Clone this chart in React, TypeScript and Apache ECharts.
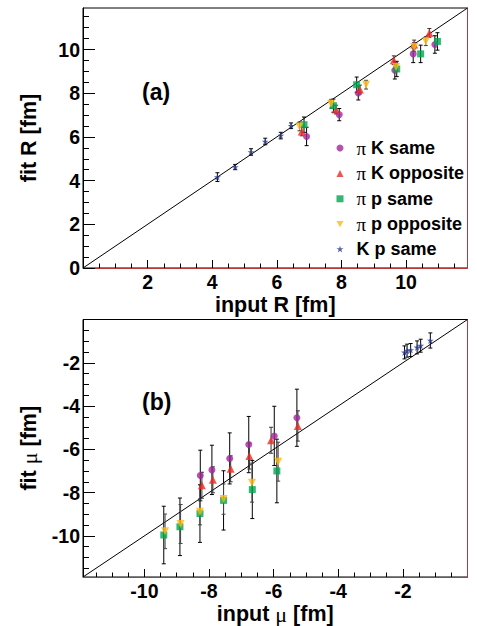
import React, { useEffect, useRef } from 'react';
import * as echarts from 'echarts';

// ---------- data ----------
const legendNames = ['π K same', 'π K opposite', 'π p same', 'π p opposite', 'K p same'];
const seriesColors = ['#a0289b', '#ee2a24', '#00a651', '#fdb913', '#2b3990'];
const errColors = ['#000000', '#333333', '#000000', '#444444', '#000000'];

// Panel (a): radius
const piKSameRin = [6.92, 7.93, 8.52, 9.65, 10.22, 10.89];
const piKSameRfit = [6.02, 7.02, 8.01, 9.05, 9.8, 10.23];
const piKSameRerr = [0.42, 0.28, 0.32, 0.4, 0.4, 0.4];

const piKOppRin = [6.77, 7.83, 8.57, 9.62, 10.25, 10.72];
const piKOppRfit = [6.25, 7.25, 8.17, 9.51, 10.23, 10.76];
const piKOppRerr = [0.2, 0.2, 0.2, 0.2, 0.2, 0.2];

const piPSameRin = [6.84, 7.75, 8.47, 9.71, 10.45, 10.97];
const piPSameRfit = [6.56, 7.43, 8.39, 9.11, 9.8, 10.37];
const piPSameRerr = [0.35, 0.3, 0.35, 0.35, 0.4, 0.4];

const piPOppRin = [6.7, 7.68, 8.76, 9.69, 10.25, 10.61];
const piPOppRfit = [6.48, 7.52, 8.39, 9.2, 10.12, 10.38];
const piPOppRerr = [0.2, 0.2, 0.2, 0.2, 0.2, 0.2];

const kPSameRin = [4.16, 4.71, 5.2, 5.64, 6.12, 6.44];
const kPSameRfit = [4.16, 4.62, 5.31, 5.79, 6.06, 6.51];
const kPSameRerr = [0.2, 0.12, 0.15, 0.15, 0.15, 0.13];

// Panel (b): mu
const piKSameMuIn = [-8.27, -7.91, -7.36, -6.77, -5.98, -5.28];
const piKSameMuFit = [-7.21, -6.95, -6.42, -5.78, -5.38, -4.54];
const piKSameMuErr = [1.17, 1.14, 1.18, 1.3, 1.37, 1.32];

const piKOppMuIn = [-8.22, -7.88, -7.33, -6.75, -6.08, -5.25];
const piKOppMuFit = [-7.66, -7.41, -6.9, -6.31, -5.58, -4.92];
const piKOppMuErr = [0.6, 0.6, 0.6, 0.6, 0.6, 0.7];

const piPSameMuIn = [-9.4, -8.9, -8.28, -7.55, -6.66, -5.9];
const piPSameMuFit = [-9.96, -9.58, -8.97, -8.36, -7.86, -7.0];
const piPSameMuErr = [1.33, 1.33, 1.33, 1.37, 1.34, 1.47];

const piPOppMuIn = [-9.36, -8.88, -8.28, -7.55, -6.67, -5.86];
const piPOppMuFit = [-9.79, -9.45, -8.89, -8.3, -7.54, -6.57];
const piPOppMuErr = [0.8, 0.9, 0.6, 0.7, 0.9, 0.9];

const kPSameMuIn = [-1.95, -1.87, -1.76, -1.56, -1.45, -1.15];
const kPSameMuFit = [-1.52, -1.44, -1.41, -1.29, -1.21, -0.97];
const kPSameMuErr = [0.3, 0.3, 0.3, 0.3, 0.3, 0.35];

// axes
const rRange = [0, 11.9];
const muRange = [-11.9, 0];
const rXLabels = [2, 4, 6, 8, 10];
const rYLabels = [0, 2, 4, 6, 8, 10];
const rMajorTicks = [0, 2, 4, 6, 8, 10];
const rMinorTicks = [0.5, 1, 1.5, 2.5, 3, 3.5, 4.5, 5, 5.5, 6.5, 7, 7.5, 8.5, 9, 9.5, 10.5, 11, 11.5];
const muLabels = [-10, -8, -6, -4, -2];
const muMinorTicks = [-11.5, -11, -10.5, -9.5, -9, -8.5, -7.5, -7, -6.5, -5.5, -5, -4.5, -3.5, -3, -2.5, -1.5, -1, -0.5];

// ---------- styling helpers ----------
const FONT = 'Liberation Sans';
const FRAME_RED = '#b23a3a';
const starPath = 'path://M5,0 L6.2,3.6 L10,3.6 L6.9,5.8 L8.1,9.5 L5,7.2 L1.9,9.5 L3.1,5.8 L0,3.6 L3.8,3.6 Z';
const downTriPath = 'path://M0,0 L10,0 L5,9 Z';
const symbols = ['circle', 'triangle', 'rect', downTriPath, starPath];
const symbolSizes = [7, 8, 7, 8, 7];

const rSets = [
  [piKSameRin, piKSameRfit, piKSameRerr],
  [piKOppRin, piKOppRfit, piKOppRerr],
  [piPSameRin, piPSameRfit, piPSameRerr],
  [piPOppRin, piPOppRfit, piPOppRerr],
  [kPSameRin, kPSameRfit, kPSameRerr],
];
const muSets = [
  [piKSameMuIn, piKSameMuFit, piKSameMuErr],
  [piKOppMuIn, piKOppMuFit, piKOppMuErr],
  [piPSameMuIn, piPSameMuFit, piPSameMuErr],
  [piPOppMuIn, piPOppMuFit, piPOppMuErr],
  [kPSameMuIn, kPSameMuFit, kPSameMuErr],
];

const labelStyle = { fontFamily: FONT, fontSize: 19.5, fontWeight: 'bold', color: '#000' };
const nameStyle = {
  fontFamily: FONT,
  fontSize: 21.5,
  fontWeight: 'bold',
  color: '#000',
  rich: { mu: { fontFamily: 'Liberation Serif', fontSize: 22, fontWeight: 'normal', color: '#000' } },
};

function errSeries(xs: number[], ys: number[], es: number[], color: string, xi: number, yi: number) {
  return {
    type: 'custom',
    xAxisIndex: xi,
    yAxisIndex: yi,
    z: 2,
    silent: true,
    encode: { x: 0, y: 1 },
    data: xs.map((x, i) => [x, ys[i], es[i]]),
    renderItem: (params: any, api: any) => {
      const x = api.value(0);
      const y = api.value(1);
      const e = api.value(2);
      const p1 = api.coord([x, y + e]);
      const p2 = api.coord([x, y - e]);
      const style = { stroke: color, lineWidth: 1 };
      return {
        type: 'group',
        children: [
          { type: 'line', shape: { x1: p1[0], y1: p1[1], x2: p2[0], y2: p2[1] }, style },
          { type: 'line', shape: { x1: p1[0] - 2, y1: p1[1], x2: p1[0] + 2, y2: p1[1] }, style },
          { type: 'line', shape: { x1: p2[0] - 2, y1: p2[1], x2: p2[0] + 2, y2: p2[1] }, style },
        ],
      };
    },
  };
}

function scatterSeries(k: number, xs: number[], ys: number[], xi: number, yi: number) {
  return {
    type: 'scatter',
    name: legendNames[k],
    xAxisIndex: xi,
    yAxisIndex: yi,
    z: 3,
    symbol: symbols[k],
    symbolSize: symbolSizes[k],
    itemStyle: { color: seriesColors[k] },
    data: xs.map((x, i) => [x, ys[i]]),
  };
}

function majorX(gridIndex: number, range: number[], labels: number[], ticks: number[], name: string) {
  return {
    type: 'value',
    gridIndex,
    min: range[0],
    max: range[1],
    position: 'bottom',
    name,
    nameLocation: 'middle',
    nameGap: 26,
    nameTextStyle: nameStyle,
    axisLine: { show: true, onZero: false, lineStyle: { color: FRAME_RED, width: 1 } },
    axisTick: { show: true, inside: true, length: 8, customValues: ticks, lineStyle: { color: '#000' } },
    axisLabel: { show: true, customValues: labels, margin: 4, ...labelStyle },
    splitLine: { show: false },
  };
}
function minorX(gridIndex: number, range: number[], ticks: number[]) {
  return {
    type: 'value',
    gridIndex,
    min: range[0],
    max: range[1],
    position: 'bottom',
    axisLine: { show: false, onZero: false },
    axisTick: { show: true, inside: true, length: 4.5, customValues: ticks, lineStyle: { color: '#000' } },
    axisLabel: { show: false },
    splitLine: { show: false },
  };
}
function majorY(gridIndex: number, range: number[], labels: number[], ticks: number[], name: string) {
  return {
    type: 'value',
    gridIndex,
    min: range[0],
    max: range[1],
    position: 'left',
    name,
    nameLocation: 'middle',
    nameGap: 43,
    nameTextStyle: nameStyle,
    axisLine: { show: true, onZero: false, lineStyle: { color: '#000', width: 1 } },
    axisTick: { show: true, inside: true, length: 12, customValues: ticks, lineStyle: { color: '#000' } },
    axisLabel: { show: true, customValues: labels, margin: 3, ...labelStyle },
    splitLine: { show: false },
  };
}
function minorY(gridIndex: number, range: number[], ticks: number[]) {
  return {
    type: 'value',
    gridIndex,
    min: range[0],
    max: range[1],
    position: 'left',
    axisLine: { show: false, onZero: false },
    axisTick: { show: true, inside: true, length: 6, customValues: ticks, lineStyle: { color: '#000' } },
    axisLabel: { show: false },
    splitLine: { show: false },
  };
}
function rightY(gridIndex: number, range: number[]) {
  return {
    type: 'value',
    gridIndex,
    min: range[0],
    max: range[1],
    position: 'right',
    axisLine: { show: true, onZero: false, lineStyle: { color: FRAME_RED, width: 1 } },
    axisTick: { show: false },
    axisLabel: { show: false },
    splitLine: { show: false },
  };
}

export default function App() {
  const ref = useRef<HTMLDivElement>(null);

  useEffect(() => {
    if (!ref.current) return;
    const chart = echarts.init(ref.current, null, { renderer: 'svg' });

    const series: any[] = [];
    series.push({
      type: 'line',
      xAxisIndex: 0,
      yAxisIndex: 0,
      z: 1,
      silent: true,
      showSymbol: false,
      lineStyle: { color: '#000', width: 1 },
      data: [[rRange[0], rRange[0]], [rRange[1], rRange[1]]],
    });
    series.push({
      type: 'line',
      xAxisIndex: 2,
      yAxisIndex: 3,
      z: 1,
      silent: true,
      showSymbol: false,
      lineStyle: { color: '#000', width: 1 },
      data: [[muRange[0], muRange[0]], [muRange[1], muRange[1]]],
    });
    rSets.forEach((s, k) => series.push(scatterSeries(k, s[0], s[1], 0, 0)));
    muSets.forEach((s, k) => series.push(scatterSeries(k, s[0], s[1], 2, 3)));
    rSets.forEach((s, k) => series.push(errSeries(s[0], s[1], s[2], errColors[k], 0, 0)));
    muSets.forEach((s, k) => series.push(errSeries(s[0], s[1], s[2], errColors[k], 2, 3)));

    chart.setOption({
      animation: false,
      backgroundColor: '#ffffff',
      textStyle: { fontFamily: FONT },
      grid: [
        { left: 83, top: 8, width: 384.5, height: 260, show: true, borderColor: '#000', borderWidth: 1, containLabel: false },
        { left: 83, top: 319.5, width: 384.5, height: 260.5, show: true, borderColor: '#000', borderWidth: 1, containLabel: false },
      ],
      xAxis: [
        majorX(0, rRange, rXLabels, rMajorTicks, 'input R [fm]'),
        minorX(0, rRange, rMinorTicks),
        majorX(1, muRange, muLabels, muLabels, 'input {mu|μ} [fm]'),
        minorX(1, muRange, muMinorTicks),
      ],
      yAxis: [
        majorY(0, rRange, rYLabels, rMajorTicks, 'fit R [fm]'),
        minorY(0, rRange, rMinorTicks),
        rightY(0, rRange),
        majorY(1, muRange, muLabels, muLabels, 'fit {mu|μ} [fm]'),
        minorY(1, muRange, muMinorTicks),
        rightY(1, muRange),
      ],
      legend: {
        data: legendNames,
        orient: 'vertical',
        left: 336.5,
        top: 138.5,
        padding: 0,
        itemWidth: 7,
        itemHeight: 7,
        itemGap: 6.4,
        selectedMode: false,
        formatter: (name: string) =>
          name.startsWith('π') ? `{pi|π}{t|${name.slice(1)}}` : `{t0|${name}}`,
        textStyle: {
          fontFamily: FONT,
          fontSize: 18,
          fontWeight: 'bold',
          color: '#000',
          rich: {
            pi: { fontFamily: 'Liberation Serif', fontSize: 19, fontWeight: 'normal', color: '#000', padding: [0, 0, 0, 8], lineHeight: 20 },
            t: { fontFamily: FONT, fontSize: 18, fontWeight: 'bold', color: '#000', lineHeight: 20 },
            t0: { fontFamily: FONT, fontSize: 18, fontWeight: 'bold', color: '#000', padding: [0, 0, 0, 8], lineHeight: 20 },
          },
        },
      },
      graphic: [
        { type: 'text', left: 142, top: 80, style: { text: '(a)', fontFamily: FONT, fontSize: 23, fontWeight: 'bold', fill: '#000' } },
        { type: 'text', left: 142, top: 390, style: { text: '(b)', fontFamily: FONT, fontSize: 23, fontWeight: 'bold', fill: '#000' } },
      ],
      series,
    });

    return () => chart.dispose();
  }, []);

  return <div ref={ref} style={{ position: 'absolute', left: 0, top: 0, width: 477, height: 626 }} />;
}
